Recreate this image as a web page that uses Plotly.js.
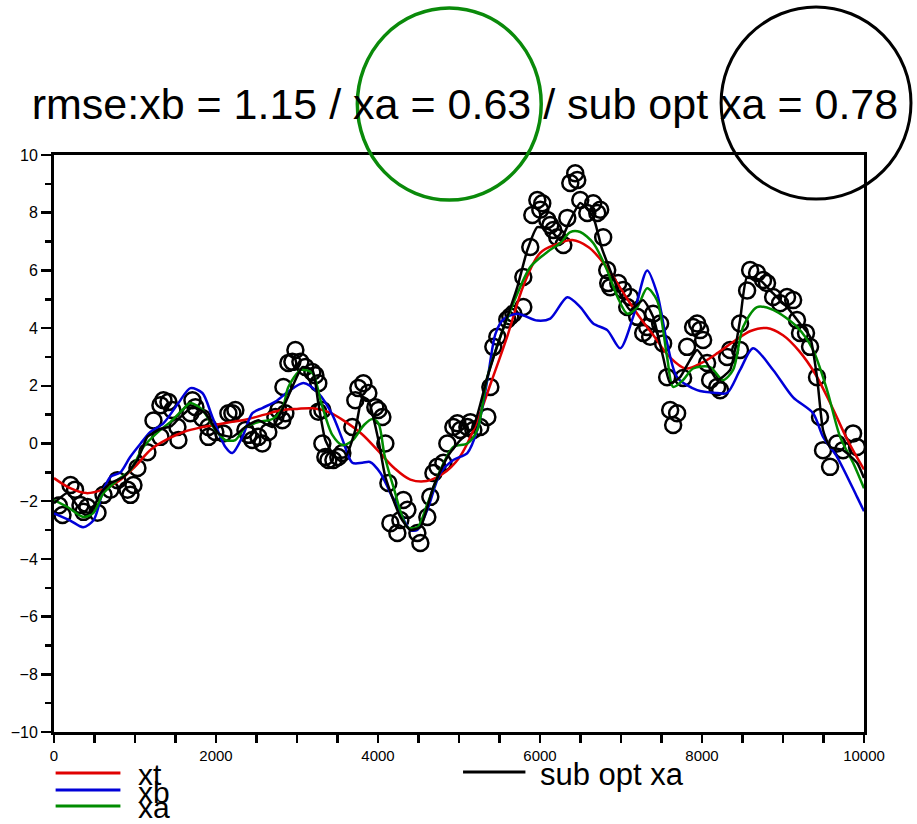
<!DOCTYPE html>
<html>
<head>
<meta charset="utf-8">
<script src="https://cdn.plot.ly/plotly-3.0.1.min.js"></script>
<style>html,body{margin:0;padding:0;background:#fff;}#chart{width:917px;height:824px;}</style>
</head>
<body>
<div id="chart"></div>
<script>
// ---- data ----
const titleText = "rmse:xb = 1.15 / xa = 0.63 / sub opt xa = 0.78";

const xtX = [0,200,400,600,800,1000,1200,1400,1600,1800,2000,2200,2400,2600,2800,3000,3200,3400,3600,3800,4000,4200,4400,4600,4800,5000,5200,5400,5600,5800,6000,6200,6400,6600,6800,7000,7200,7400,7600,7800,8000,8200,8400,8600,8800,9000,9200,9400,9600,9800,10000];
const xtY = [-1.2,-1.55,-1.72,-1.6,-1.3,-0.8,-0.2,0.15,0.4,0.55,0.65,0.75,0.85,1.0,1.15,1.2,1.22,1.08,0.75,0.33,-0.25,-0.85,-1.25,-1.3,-1.05,-0.5,0.6,2.15,3.75,5.5,6.6,6.9,7.05,6.8,6.2,5.35,4.5,3.75,3.0,2.6,2.8,3.15,3.55,3.9,4.0,3.75,3.2,2.4,1.3,0.1,-0.9];

const xbX = [0,200,360,490,610,700,820,940,1070,1190,1350,1536,1684,1832,1955,2116,2202,2326,2449,2572,2733,2893,3080,3263,3436,3560,3683,3807,3900,4030,4153,4276,4400,4486,4609,4770,4930,5103,5226,5350,5450,5547,5720,5967,6127,6337,6497,6657,6830,6990,7150,7323,7446,7570,7693,7940,8187,8310,8470,8631,8878,9125,9371,9495,9668,9914,10000];
const xbY = [-2.42,-2.67,-2.9,-2.65,-1.6,-1.15,-1.0,-0.47,0.0,0.4,0.7,1.4,1.92,1.75,0.92,-0.12,-0.33,0.23,1.05,1.23,1.45,1.8,2.1,1.75,1.0,0.15,-0.67,-0.67,-0.64,-1.02,-1.72,-2.41,-3.0,-3.0,-2.3,-1.02,-0.57,-0.33,0.47,2.2,3.8,4.3,4.5,4.26,4.33,5.07,4.73,4.16,3.93,3.3,4.39,6.0,5.2,3.47,2.3,1.85,1.75,1.75,2.55,3.3,2.55,1.6,1.05,0.23,-0.47,-1.85,-2.35];

const xaX = [0,167,364,487,611,783,944,1104,1314,1440,1585,1684,1832,1992,2116,2239,2363,2523,2696,2819,2893,3050,3190,3300,3436,3560,3683,3830,3930,4006,4080,4190,4363,4486,4609,4770,4930,5103,5226,5350,5510,5671,5880,6090,6250,6374,6497,6657,6830,6954,7077,7200,7323,7446,7570,7644,7767,7890,8100,8260,8384,8507,8680,8878,9173,9371,9544,9705,9865,10000];
const xaY = [-1.96,-2.2,-2.55,-2.4,-1.72,-1.27,-0.92,-0.12,0.47,0.75,1.16,1.4,1.16,0.47,0.12,0.12,0.57,0.74,0.85,1.2,1.96,2.55,2.44,1.4,0.3,-0.05,0.1,0.65,0.85,0.7,-0.4,-1.5,-2.9,-2.9,-2.1,-0.92,-0.12,0.0,0.47,2.3,3.7,4.86,6.12,6.64,6.95,7.33,7.33,6.95,6.0,5.1,4.5,4.73,5.38,4.96,2.98,1.96,2.2,2.6,2.65,2.2,2.55,4.04,4.73,4.63,4.04,3.24,1.85,0.23,-0.67,-1.55];

const subX = [0,167,327,450,574,697,858,1030,1153,1314,1450,1536,1709,1869,2030,2202,2363,2523,2696,2832,2980,3066,3190,3263,3350,3473,3597,3720,3807,3881,4005,4091,4276,4400,4523,4684,4856,5017,5177,5350,5510,5610,5720,5843,5967,6127,6250,6374,6497,6657,6760,6867,6970,7113,7274,7397,7521,7607,7730,7853,7940,8063,8187,8347,8470,8557,8717,8878,9050,9210,9334,9420,9494,9581,9741,9914,10000];
const subY = [-2.07,-1.72,-2.3,-2.4,-1.72,-1.37,-1.16,-0.57,0.23,0.5,0.6,0.85,1.26,1.05,0.35,0.23,0.57,0.81,0.57,1.26,2.2,2.65,2.55,1.4,0.12,-0.47,-0.47,0.47,1.61,1.5,0.12,-1.16,-2.55,-3.0,-2.9,-1.5,-0.47,0.12,0.57,2.3,3.7,4.5,5.42,6.7,7.5,7.4,7.05,7.75,8.34,7.85,6.8,6.0,5.3,4.63,4.97,4.39,2.98,2.09,2.3,2.9,3.24,2.77,2.2,2.55,4.28,5.77,5.66,5.2,4.73,4.16,3.7,2.3,0.47,-0.12,-0.23,-0.67,-1.2];

const obsX = [60,105,204,260,327,364,413,537,611,697,783,907,944,981,1030,1153,1228,1314,1314,1351,1413,1462,1524,1536,1684,1709,1746,1832,1906,1906,1992,2091,2153,2202,2239,2363,2400,2449,2523,2572,2646,2733,2770,2819,2856,2832,2893,2943,2980,3042,3103,3190,3227,3263,3263,3313,3313,3350,3387,3449,3510,3560,3683,3720,3757,3819,3881,3967,4005,4054,4091,4128,4153,4239,4276,4313,4363,4486,4523,4609,4646,4684,4733,4807,4856,4930,4980,5017,5103,5140,5177,5263,5350,5387,5424,5473,5596,5633,5671,5794,5794,5880,5905,5967,6004,6028,6090,6127,6164,6213,6288,6337,6374,6435,6460,6497,6584,6657,6707,6743,6780,6830,6842,6867,6966,7027,7077,7113,7200,7274,7323,7360,7397,7483,7520,7570,7607,7644,7693,7767,7816,7890,7940,7977,8014,8063,8100,8187,8224,8310,8347,8470,8470,8557,8594,8680,8754,8803,8878,8964,9050,9125,9173,9210,9284,9334,9420,9457,9494,9581,9668,9741,9865,9914];
const obsY = [-2.15,-2.48,-1.44,-1.6,-2.13,-2.37,-2.2,-2.4,-1.78,-1.6,-1.27,-1.6,-1.78,-1.44,-0.85,-0.3,0.8,0.23,1.33,1.5,1.44,1.16,0.57,0.12,1.05,1.5,1.26,0.88,0.57,0.23,0.4,0.35,1.05,1.05,1.16,0.47,0.3,0.12,0.23,0.0,0.4,0.92,1.16,0.81,1.05,1.96,2.79,2.83,3.24,2.83,2.65,2.48,2.37,2.09,1.1,1.16,0.0,-0.47,-0.57,-0.57,-0.47,-0.33,0.57,1.5,1.92,2.09,1.75,1.26,1.16,0.92,0.0,-1.37,-2.76,-3.1,-2.65,-1.96,-2.3,-3.1,-3.45,-2.55,-1.85,-1.02,-0.81,-0.67,0.0,0.57,0.7,0.47,0.57,0.74,0.47,0.57,0.92,1.96,3.35,3.7,4.3,4.4,4.5,4.73,5.77,6.81,7.92,8.44,8.1,8.33,7.75,7.57,7.4,7.15,6.88,7.82,9.03,9.37,9.13,8.44,7.99,8.33,7.99,8.1,7.15,6.01,5.56,5.42,5.56,5.32,4.73,5.08,4.39,3.83,4.04,3.7,4.5,4.16,3.47,2.3,1.16,0.64,1.05,2.27,3.35,4.04,4.16,3.93,3.59,2.79,2.2,1.96,1.85,3.0,3.24,3.24,4.16,5.3,6.01,5.91,5.67,5.56,5.08,4.86,5.08,4.97,4.28,3.83,3.83,3.35,2.3,0.92,-0.23,-0.81,0.0,-0.23,0.35,-0.12];

const legendLeft = ["xt","xb","xa"];
const legendRight = "sub opt xa";
const colRed = "#e00000", colBlue = "#0000d8", colGreen = "#008c00", colBlack = "#000000";

// ---- traces ----
const lineW = 2.5;
const traces = [
  {x: obsX, y: obsY, mode: "markers", type: "scatter", name: "obs",
   marker: {symbol: "circle-open", size: 16, color: colBlack, line: {width: 2.5, color: colBlack}}},
  {x: xtX, y: xtY, mode: "lines", name: legendLeft[0], line: {color: colRed, width: lineW, shape: "spline", smoothing: 1}},
  {x: xbX, y: xbY, mode: "lines", name: legendLeft[1], line: {color: colBlue, width: lineW, shape: "spline", smoothing: 0.8}},
  {x: xaX, y: xaY, mode: "lines", name: legendLeft[2], line: {color: colGreen, width: lineW, shape: "spline", smoothing: 0.8}},
  {x: subX, y: subY, mode: "lines", name: legendRight, line: {color: colBlack, width: lineW, shape: "spline", smoothing: 0.5}}
];

const font = "Liberation Sans, Arial, Helvetica, sans-serif";
const legY = [-0.0711, -0.1005, -0.1282];
const legTextY = [-0.0745, -0.104, -0.1317];
const legCols = [colRed, colBlue, colGreen];

const shapes = [];
const annotations = [];
for (let i = 0; i < 3; i++) {
  shapes.push({type: "line", xref: "paper", yref: "paper", x0: 0.002, x1: 0.082, y0: legY[i], y1: legY[i],
    line: {color: legCols[i], width: 3}});
  annotations.push({xref: "paper", yref: "paper", x: 0.101, y: legTextY[i], xanchor: "left", yanchor: "middle",
    text: legendLeft[i], showarrow: false, font: {family: font, size: 30, color: "#000"}});
}
shapes.push({type: "line", xref: "paper", yref: "paper", x0: 0.505, x1: 0.582, y0: -0.0693, y1: -0.0693,
  line: {color: colBlack, width: 3}});
annotations.push({xref: "paper", yref: "paper", x: 0.598, y: -0.0728, xanchor: "left", yanchor: "middle",
  text: legendRight, showarrow: false, font: {family: font, size: 31, color: "#000"}});

// highlight circles
shapes.push({type: "circle", xref: "paper", yref: "paper", x0: 0.3745, x1: 0.6015, y0: 0.922, y1: 1.2548,
  line: {color: "#0a8a0a", width: 3.5}, layer: "above"});
shapes.push({type: "circle", xref: "paper", yref: "paper", x0: 0.8236, x1: 1.058, y0: 0.9237, y1: 1.2565,
  line: {color: "#000", width: 3}, layer: "above"});

const layout = {
  width: 917, height: 824,
  margin: {l: 54, r: 53, t: 155, b: 92, pad: 0},
  paper_bgcolor: "#fff", plot_bgcolor: "#fff",
  showlegend: false,
  title: {text: titleText, x: 0.507, xref: "container", xanchor: "center", y: 0.874, yref: "container", yanchor: "middle",
    font: {family: font, size: 43, color: "#000"}},
  xaxis: {range: [0, 10000], tick0: 0, dtick: 2000, tickformat: "d", ticks: "outside", ticklen: 8, tickwidth: 2.5, tickcolor: "#000",
    showline: true, linewidth: 3, linecolor: "#000", mirror: true, showgrid: false, zeroline: false, automargin: false,
    tickfont: {family: font, size: 15, color: "#000"},
    minor: {dtick: 500, ticks: "outside", ticklen: 8, tickwidth: 2.5, tickcolor: "#000", showgrid: false}},
  yaxis: {range: [-10, 10], tick0: 0, dtick: 2, ticks: "outside", ticklen: 10, tickwidth: 2.5, tickcolor: "#000",
    showline: true, linewidth: 3, linecolor: "#000", mirror: true, showgrid: false, zeroline: false, automargin: false,
    tickfont: {family: font, size: 16, color: "#000"},
    minor: {dtick: 1, ticks: "outside", ticklen: 6, tickwidth: 2.5, tickcolor: "#000", showgrid: false}},
  shapes: shapes,
  annotations: annotations
};

Plotly.newPlot("chart", traces, layout, {displayModeBar: false, staticPlot: true});
</script>
</body>
</html>
